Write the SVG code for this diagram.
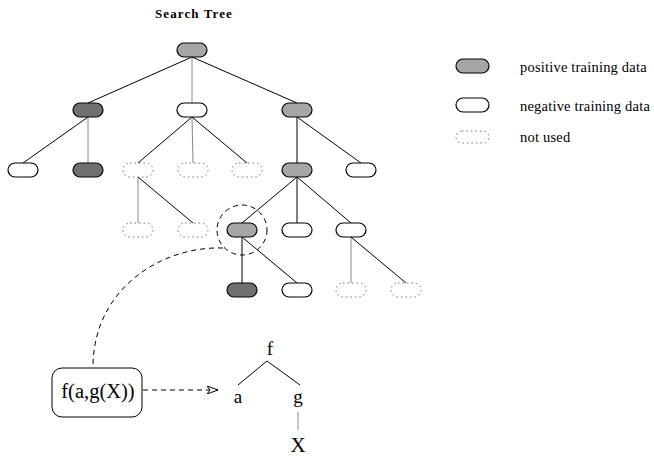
<svg xmlns="http://www.w3.org/2000/svg" width="654" height="456" viewBox="0 0 654 456">
<defs>
<style>
.n{stroke:#000;stroke-width:1.2}
.pos{fill:#a6a6a6}
.dark{fill:#707070}
.neg{fill:#fff}
.nu{fill:#fff;stroke:#777;stroke-width:1;stroke-dasharray:1.5,3}
.e{stroke:#000;stroke-width:1;fill:none}
.eg{stroke:#888;stroke-width:1;fill:none}
.t{font-family:"Liberation Serif","Times New Roman",serif;fill:#000}
.lg{font-size:14.5px;letter-spacing:0.2px}
</style>
<marker id="ah" markerWidth="12" markerHeight="8" refX="11" refY="4" orient="auto" markerUnits="userSpaceOnUse">
<path d="M0,0 L11,4 L0,8 L3,4 Z" fill="#fff" stroke="#000" stroke-width="1"/>
</marker>
</defs>
<rect width="654" height="456" fill="#fff"/>
<text class="t" x="194" y="18" font-size="13" font-weight="bold" text-anchor="middle" letter-spacing="1.1">Search  Tree</text>

<g id="connectors">
<line class="e" x1="192" y1="57" x2="88" y2="103"/>
<line class="eg" x1="192" y1="57" x2="192" y2="103"/>
<line class="e" x1="192" y1="57" x2="297" y2="103"/>
<line class="e" x1="88" y1="117" x2="23" y2="163"/>
<line class="eg" x1="88" y1="117" x2="88" y2="163"/>
<line class="e" x1="192" y1="117" x2="138" y2="163"/>
<line class="eg" x1="192" y1="117" x2="193" y2="163"/>
<line class="e" x1="192" y1="117" x2="247" y2="163"/>
<line class="e" x1="297" y1="117" x2="297" y2="163"/>
<line class="e" x1="297" y1="117" x2="361" y2="163"/>
<line class="eg" x1="138" y1="177" x2="138" y2="223"/>
<line class="e" x1="138" y1="177" x2="193" y2="223"/>
<line class="e" x1="297" y1="177" x2="242" y2="223"/>
<line class="e" x1="297" y1="177" x2="297" y2="223"/>
<line class="e" x1="297" y1="177" x2="351" y2="223"/>
<line class="e" x1="242" y1="237" x2="242" y2="283"/>
<line class="e" x1="242" y1="237" x2="297" y2="283"/>
<line class="eg" x1="351" y1="237" x2="351" y2="283"/>
<line class="e" x1="351" y1="237" x2="406" y2="283"/>
<circle cx="242" cy="230" r="25" fill="none" stroke="#000" stroke-width="1" stroke-dasharray="5,4"/>
<path d="M223,248 C160,246 93,290 93,367" fill="none" stroke="#000" stroke-width="1" stroke-dasharray="5,4"/>
<line x1="143" y1="390" x2="218" y2="390" stroke="#000" stroke-width="1" stroke-dasharray="5,4" marker-end="url(#ah)"/>
<line class="e" x1="267" y1="361" x2="238" y2="385"/>
<line class="e" x1="267" y1="361" x2="300" y2="385"/>
<line class="eg" x1="298" y1="412" x2="298" y2="430"/>
</g>

<g id="n0"><rect class="n pos" x="177" y="43" width="30" height="14" rx="7"/></g>
<g id="n1a"><rect class="n dark" x="73" y="103" width="30" height="14" rx="7"/></g>
<g id="n1b"><rect class="n neg" x="177" y="103" width="30" height="14" rx="7"/></g>
<g id="n1c"><rect class="n pos" x="282" y="103" width="30" height="14" rx="7"/></g>
<g id="n2a"><rect class="n neg" x="8" y="163" width="30" height="14" rx="7"/></g>
<g id="n2b"><rect class="n dark" x="73" y="163" width="30" height="14" rx="7"/></g>
<g id="n2c"><rect class="nu" x="123" y="163" width="30" height="14" rx="7"/></g>
<g id="n2d"><rect class="nu" x="178" y="163" width="30" height="14" rx="7"/></g>
<g id="n2e"><rect class="nu" x="232" y="163" width="30" height="14" rx="7"/></g>
<g id="n2f"><rect class="n pos" x="282" y="163" width="30" height="14" rx="7"/></g>
<g id="n2g"><rect class="n neg" x="346" y="163" width="30" height="14" rx="7"/></g>
<g id="n3a"><rect class="nu" x="123" y="223" width="30" height="14" rx="7"/></g>
<g id="n3b"><rect class="nu" x="178" y="223" width="30" height="14" rx="7"/></g>
<g id="n3c"><rect class="n pos" x="227" y="223" width="30" height="14" rx="7"/></g>
<g id="n3d"><rect class="n neg" x="282" y="223" width="30" height="14" rx="7"/></g>
<g id="n3e"><rect class="n neg" x="336" y="223" width="30" height="14" rx="7"/></g>
<g id="n4a"><rect class="n dark" x="227" y="283" width="30" height="14" rx="7"/></g>
<g id="n4b"><rect class="n neg" x="282" y="283" width="30" height="14" rx="7"/></g>
<g id="n4c"><rect class="nu" x="336" y="283" width="30" height="14" rx="7"/></g>
<g id="n4d"><rect class="nu" x="391" y="283" width="30" height="14" rx="7"/></g>

<g id="term">
<rect x="52" y="368" width="90" height="49" rx="10" fill="#fff" stroke="#000" stroke-width="1"/>
<text class="t" x="98" y="398" font-size="20.5" text-anchor="middle">f(a,g(X))</text>
</g>
<g id="termtree">
<text class="t" x="270" y="355" font-size="19" text-anchor="middle">f</text>
<text class="t" x="238" y="403" font-size="19" text-anchor="middle">a</text>
<text class="t" x="298" y="403" font-size="19" text-anchor="middle">g</text>
<text class="t" x="298" y="452" font-size="21" text-anchor="middle">X</text>
</g>

<g id="legend">
<rect class="n pos" x="456" y="59" width="33" height="14" rx="7"/>
<text class="t lg" x="520" y="72">positive training data</text>
<rect class="n neg" x="456" y="98" width="33" height="14" rx="7"/>
<text class="t lg" x="520" y="111">negative training data</text>
<rect class="nu" x="456" y="131" width="33" height="12" rx="6"/>
<text class="t lg" x="520" y="142">not used</text>
</g>
</svg>
